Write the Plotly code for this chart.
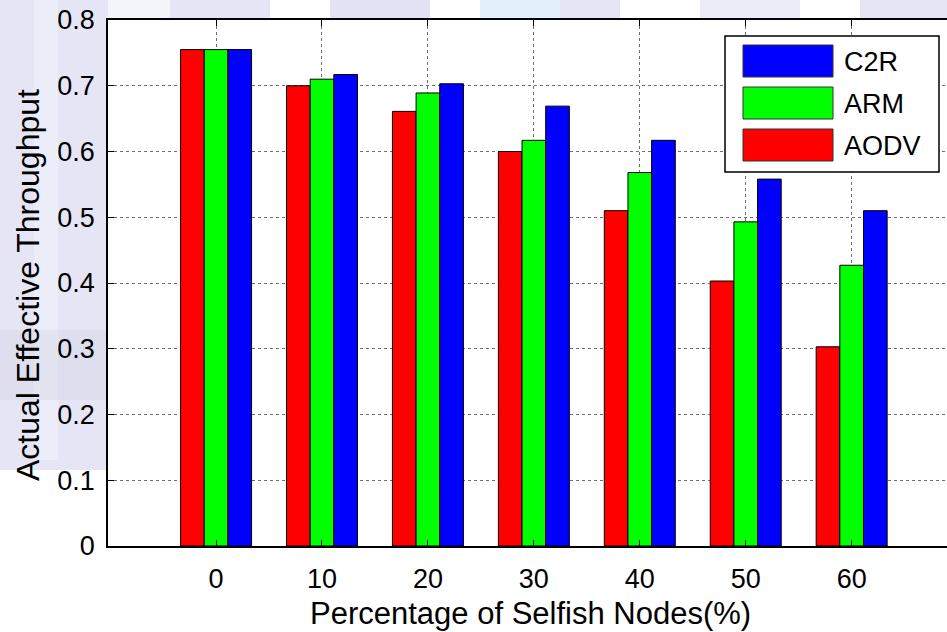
import plotly.graph_objects as go

# ---- data ----
categories = ["0", "10", "20", "30", "40", "50", "60"]
aodv = [0.755, 0.700, 0.661, 0.600, 0.510, 0.403, 0.303]
arm = [0.755, 0.710, 0.689, 0.617, 0.568, 0.493, 0.427]
c2r = [0.755, 0.717, 0.703, 0.669, 0.617, 0.558, 0.510]
series_names = ["AODV", "ARM", "C2R"]
series_values = [aodv, arm, c2r]
series_colors = ["#ff0000", "#00ff00", "#0000ff"]
y_ticks = [0, 0.1, 0.2, 0.3, 0.4, 0.5, 0.6, 0.7, 0.8]
y_ticktext = ["0", "0.1", "0.2", "0.3", "0.4", "0.5", "0.6", "0.7", "0.8"]
x_title = "Percentage of Selfish Nodes(%)"
y_title = "Actual Effective Throughput"

FONT = "Liberation Sans, Arial, sans-serif"
W, H = 947, 632
ML, MR, MT, MB = 108, 0, 20, 86

fig = go.Figure()
for name, vals, col in zip(series_names, series_values, series_colors):
    fig.add_trace(go.Bar(
        x=categories, y=vals, name=name,
        marker=dict(color=col, line=dict(color="#000000", width=1)),
        showlegend=False,
    ))

def px2paper_x(px):
    return (px - ML) / (W - ML - MR)

def px2paper_y(py):
    return (H - MB - py) / (H - MT - MB)

shapes = []
# soft background watermark-like decoration, pixels
deco = [
    (0, 0, 108, 470, "rgba(212,212,240,0.6)"),
    (34, 0, 58, 460, "rgba(245,245,252,0.5)"),
    (0, 330, 108, 400, "rgba(205,205,220,0.25)"),
    (108, 0, 170, 20, "rgba(240,240,250,0.7)"),
    (170, 0, 270, 20, "rgba(218,218,242,0.7)"),
    (330, 0, 430, 20, "rgba(214,214,240,0.7)"),
    (480, 0, 560, 20, "rgba(218,236,250,0.8)"),
    (560, 0, 620, 20, "rgba(218,218,242,0.7)"),
    (700, 0, 800, 20, "rgba(224,224,244,0.6)"),
    (860, 0, 947, 20, "rgba(218,218,242,0.7)"),
]
for x0, y0, x1, y1, c in deco:
    shapes.append(dict(type="rect", xref="paper", yref="paper",
                       x0=px2paper_x(x0), x1=px2paper_x(x1),
                       y0=px2paper_y(y1), y1=px2paper_y(y0),
                       fillcolor=c, line=dict(width=0), layer="below"))

# custom legend (MATLAB-style large swatches), order reversed
annotations = []
box_l, box_r, box_t, box_b = 725, 939, 36, 172
shapes.append(dict(type="rect", xref="paper", yref="paper",
                   x0=px2paper_x(box_l), x1=px2paper_x(box_r),
                   y0=px2paper_y(box_b), y1=px2paper_y(box_t),
                   fillcolor="white", line=dict(color="black", width=1.5), layer="above"))
row_centers = [61, 103, 145]
for (name, col), yc in zip(list(zip(series_names, series_colors))[::-1], row_centers):
    shapes.append(dict(type="rect", xref="paper", yref="paper",
                       x0=px2paper_x(743), x1=px2paper_x(833),
                       y0=px2paper_y(yc + 16), y1=px2paper_y(yc - 16),
                       fillcolor=col, line=dict(color="#333333", width=1), layer="above"))
    annotations.append(dict(xref="paper", yref="paper", x=px2paper_x(842), y=px2paper_y(yc + 1),
                            xanchor="left", yanchor="middle", text=name, showarrow=False,
                            font=dict(family=FONT, size=27, color="black")))

# axis titles as annotations for exact placement
annotations.append(dict(xref="paper", yref="paper", x=px2paper_x(530), y=px2paper_y(613),
                        xanchor="center", yanchor="middle", text=x_title, showarrow=False,
                        font=dict(family=FONT, size=31, color="black")))
annotations.append(dict(xref="paper", yref="paper", x=px2paper_x(28), y=px2paper_y(285),
                        xanchor="center", yanchor="middle", text=y_title, showarrow=False,
                        textangle=-90,
                        font=dict(family=FONT, size=32, color="black")))

fig.update_layout(
    width=W, height=H,
    margin=dict(l=ML, r=MR, t=MT, b=MB, pad=0, autoexpand=False),
    paper_bgcolor="white", plot_bgcolor="white",
    barmode="group", bargap=0.33, bargroupgap=0,
    font=dict(family=FONT, color="black"),
    shapes=shapes, annotations=annotations,
    showlegend=False,
)
fig.update_xaxes(
    type="category", range=[-1.02, 6.9], automargin=False,
    showgrid=True, gridcolor="#6f6f6f", griddash="dot", gridwidth=1,
    showline=True, linecolor="black", linewidth=1.5, mirror="ticks",
    ticks="inside", ticklen=6, tickcolor="black",
    tickfont=dict(size=27, family=FONT), ticklabelstandoff=8,
    zeroline=False,
)
fig.update_yaxes(
    range=[0, 0.8], tickvals=y_ticks, ticktext=y_ticktext, automargin=False,
    showgrid=True, gridcolor="#6f6f6f", griddash="dot", gridwidth=1,
    showline=True, linecolor="black", linewidth=1.5, mirror=False,
    ticks="inside", ticklen=6, tickcolor="black",
    tickfont=dict(size=27, family=FONT), ticklabelstandoff=6,
    zeroline=False,
)

fig.write_html(
    "out.html",
    config={"displayModeBar": False},
    post_script="document.body.style.margin='0';document.body.style.padding='0';"
                "document.body.style.overflow='hidden';",
)
